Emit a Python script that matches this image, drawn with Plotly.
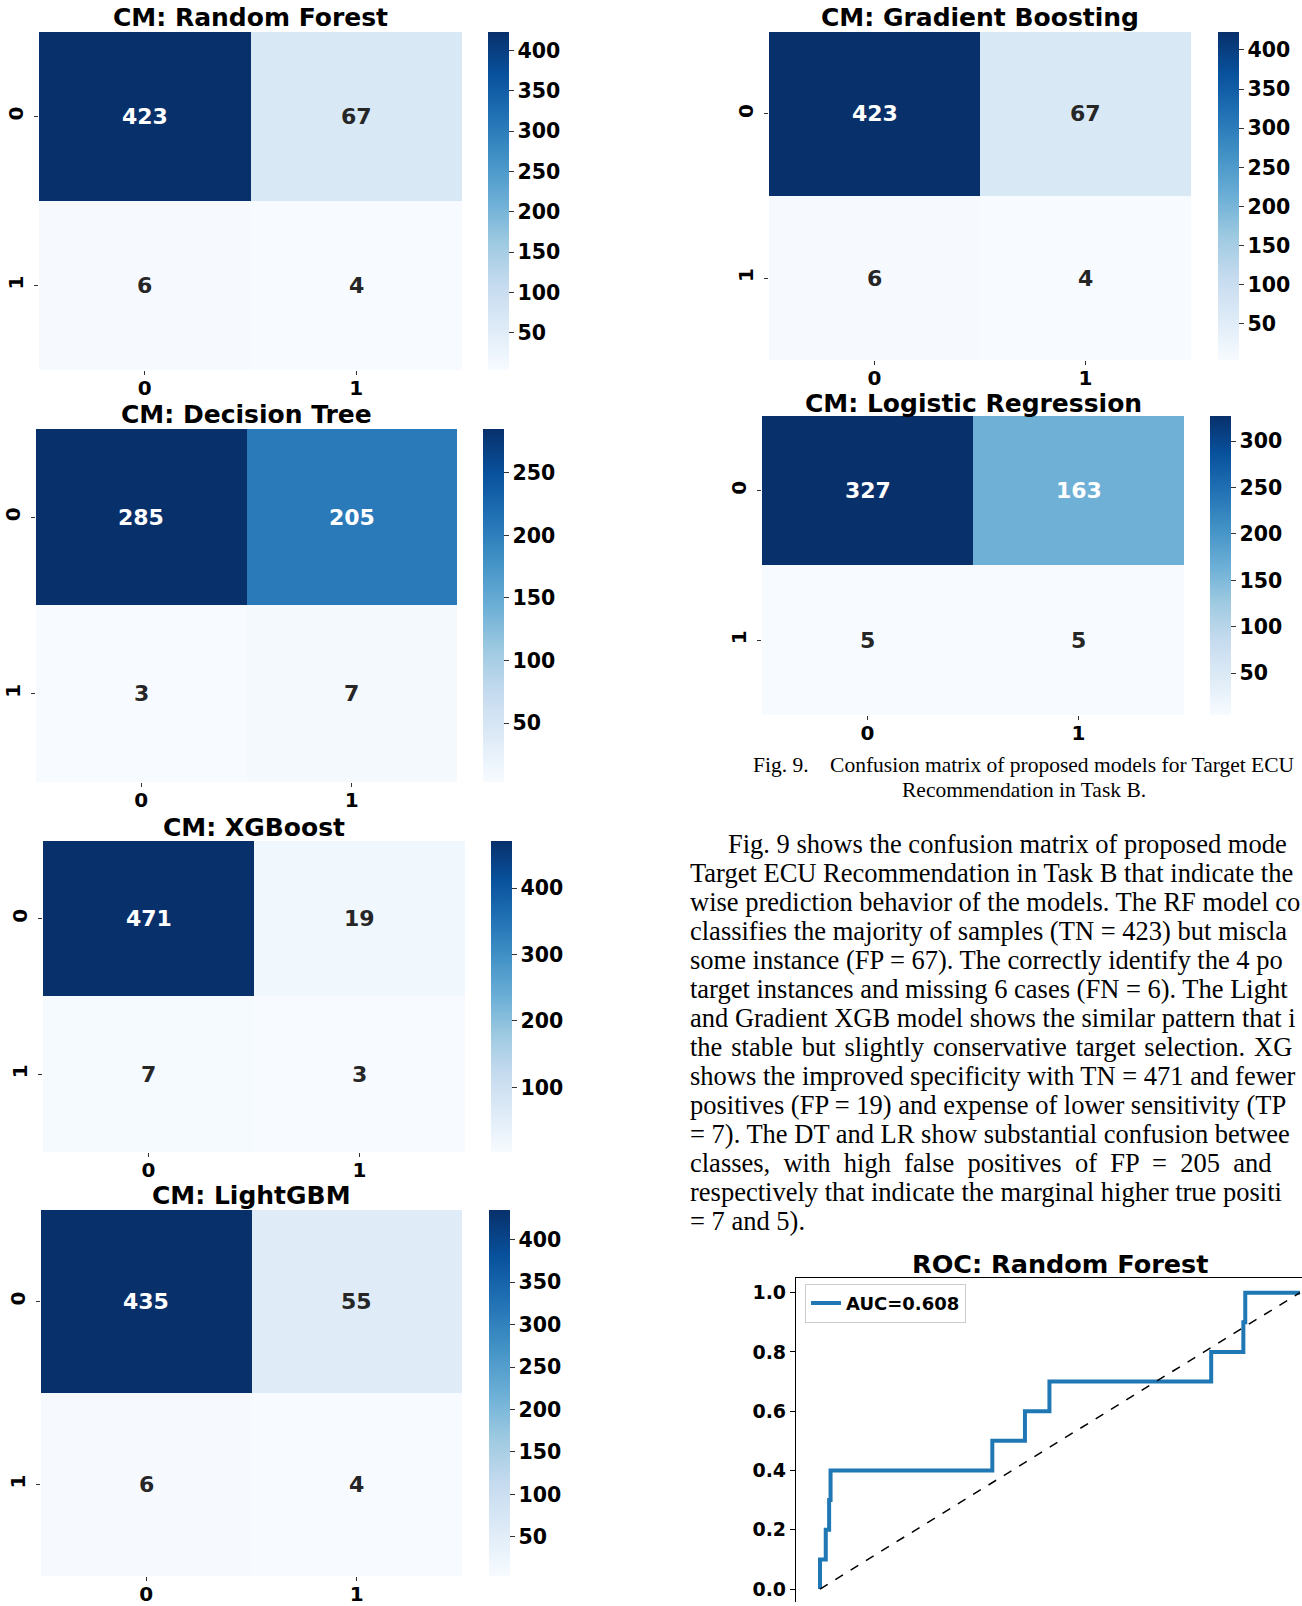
import plotly.graph_objects as go

W, H = 1302, 1606          # browser window (figure fills it; body margin removed)

# ---------------- data ----------------
class_labels = [0, 1]
model_names = ["Random Forest", "Gradient Boosting", "Logistic Regression",
               "Decision Tree", "XGBoost", "LightGBM"]
cm_rf = [[423, 67], [6, 4]]
cm_gb = [[423, 67], [6, 4]]
cm_lr = [[327, 163], [5, 5]]
cm_dt = [[285, 205], [3, 7]]
cm_xgb = [[471, 19], [7, 3]]
cm_lgbm = [[435, 55], [6, 4]]

cb_ticks_rf = [50, 100, 150, 200, 250, 300, 350, 400]
cb_ticks_gb = [50, 100, 150, 200, 250, 300, 350, 400]
cb_ticks_lr = [50, 100, 150, 200, 250, 300]
cb_ticks_dt = [50, 100, 150, 200, 250]
cb_ticks_xgb = [100, 200, 300, 400]
cb_ticks_lgbm = [50, 100, 150, 200, 250, 300, 350, 400]

roc_fpr = [0, 0, 0.012, 0.012, 0.019, 0.019, 0.022, 0.022, 0.359, 0.359, 0.427,
           0.427, 0.478, 0.478, 0.815, 0.815, 0.882, 0.882, 0.886, 0.886, 1.0]
roc_tpr = [0, 0.1, 0.1, 0.2, 0.2, 0.3, 0.3, 0.4, 0.4, 0.5, 0.5,
           0.6, 0.6, 0.7, 0.7, 0.8, 0.8, 0.9, 0.9, 1.0, 1.0]
roc_chance = [0, 1]
roc_auc = 0.608
roc_yticks = [0.0, 0.2, 0.4, 0.6, 0.8, 1.0]

NB = "\u00a0"
HAIR = "\u200a"
caption_lines = ["Fig. 9." + NB * 4 + "Confusion matrix of proposed models for Target ECU",
                 "Recommendation in Task B."]
paragraph_lines = [
    "Fig. 9 shows the confusion matrix of proposed mode",
    "Target ECU Recommendation in Task B that indicate the",
    "wise prediction behavior of the models. The RF model co",
    "classifies the majority of samples (TN = 423) but miscla",
    "some instance (FP = 67). The correctly identify the 4 po",
    "target instances and missing 6 cases (FN = 6). The Light",
    "and Gradient XGB model shows the similar pattern that i",
    "the stable but slightly conservative target selection. XG".replace(" ", " " + HAIR),
    "shows the improved specificity with TN = 471 and fewer",
    "positives (FP = 19) and expense of lower sensitivity (TP",
    "= 7). The DT and LR show substantial confusion betwee",
    "classes, with high false positives of FP = 205 and".replace(" ", " " + NB),
    "respectively that indicate the marginal higher true positi",
    "= 7 and 5).",
]

# ---------------- layout (pixel boxes in the window) ----------------
panels = [
    dict(cm=cm_rf, ticks=cb_ticks_rf, box=(39, 462, 32, 371), cb=(488, 509), ty=18),
    dict(cm=cm_gb, ticks=cb_ticks_gb, box=(769, 1191, 32, 361), cb=(1218, 1239), ty=18),
    dict(cm=cm_lr, ticks=cb_ticks_lr, box=(762, 1184, 417, 717), cb=(1210, 1231), ty=405),
    dict(cm=cm_dt, ticks=cb_ticks_dt, box=(36, 457, 430, 784), cb=(483, 504), ty=416),
    dict(cm=cm_xgb, ticks=cb_ticks_xgb, box=(43, 465, 843, 1155), cb=(491, 512), ty=830),
    dict(cm=cm_lgbm, ticks=cb_ticks_lgbm, box=(41, 462, 1213, 1580), cb=(489, 510), ty=1198),
]

blues = ["#f7fbff", "#deebf7", "#c6dbef", "#9ecae1", "#6baed6",
         "#4292c6", "#2171b5", "#08519c", "#08306b"]
colorscale = [[i / 8, c] for i, c in enumerate(blues)]

FONT = "DejaVu Sans"


def px_x(x):
    return x / W


def px_y(y):
    return 1 - y / H


fig = go.Figure()
annotations = []
layout_axes = {}

for i, p in enumerate(panels):
    k = i + 1
    xa = "x" if k == 1 else f"x{k}"
    ya = "y" if k == 1 else f"y{k}"
    x0, x1, y0, y1 = p["box"]
    z = p["cm"]
    flat = [v for row in z for v in row]
    zmin, zmax = min(flat), max(flat)
    fig.add_trace(go.Heatmap(
        z=z, x=class_labels, y=class_labels, zmin=zmin, zmax=zmax,
        colorscale=colorscale, xaxis=xa, yaxis=ya, hoverinfo="skip",
        colorbar=dict(
            thickness=p["cb"][1] - p["cb"][0], thicknessmode="pixels",
            len=(y1 - y0) / H, lenmode="fraction",
            x=px_x(p["cb"][0]), xanchor="left", xpad=0,
            y=px_y(y0), yanchor="top", ypad=0,
            outlinewidth=0, ticks="outside", ticklen=5, tickwidth=1,
            tickcolor="#333333", tickvals=p["ticks"],
            tickfont=dict(family=FONT, size=20.5, color="black", weight="bold"),
        ),
    ))
    xkey = "xaxis" if k == 1 else f"xaxis{k}"
    ykey = "yaxis" if k == 1 else f"yaxis{k}"
    layout_axes[xkey] = dict(
        domain=[px_x(x0), px_x(x1)], anchor=ya, range=[-0.5, 1.5],
        tickvals=class_labels, ticks="outside", ticklen=4, tickcolor="#333333",
        ticklabelstandoff=-4,
        showgrid=False, zeroline=False, showline=False,
        tickfont=dict(family=FONT, size=20, color="black", weight="bold"),
    )
    layout_axes[ykey] = dict(
        domain=[px_y(y1), px_y(y0)], anchor=xa, range=[1.5, -0.5],
        tickvals=class_labels, ticks="outside", ticklen=4, tickcolor="#333333",
        tickangle=-90, ticklabelstandoff=3,
        showgrid=False, zeroline=False, showline=False,
        tickfont=dict(family=FONT, size=20, color="black", weight="bold"),
    )
    for r, row in enumerate(z):
        for c, v in enumerate(row):
            norm = (v - zmin) / (zmax - zmin)
            annotations.append(dict(
                x=class_labels[c], y=class_labels[r], xref=xa, yref=ya,
                text=str(v), showarrow=False,
                font=dict(family=FONT, size=22, weight="bold",
                          color="white" if norm > 0.45 else "#262626"),
            ))
    annotations.append(dict(
        x=px_x((x0 + x1) / 2), y=px_y(p["ty"]), xref="paper", yref="paper",
        xanchor="center", yanchor="middle", showarrow=False,
        text="CM: " + model_names[i],
        font=dict(family=FONT, size=25, color="black", weight="bold"),
    ))

# ---------------- ROC panel ----------------
roc_box = (796, 1302, 1281, 1606)
fig.add_trace(go.Scatter(
    x=roc_fpr, y=roc_tpr, mode="lines", xaxis="x7", yaxis="y7",
    line=dict(color="#1f77b4", width=4), name=f"AUC={roc_auc:.3f}",
    showlegend=True,
))
fig.add_trace(go.Scatter(
    x=roc_chance, y=roc_chance, mode="lines", xaxis="x7", yaxis="y7",
    line=dict(color="black", width=1.5, dash="dash"), showlegend=False,
))
layout_axes["xaxis7"] = dict(
    domain=[px_x(roc_box[0]), px_x(roc_box[1])], anchor="y7", side="top",
    range=[-0.05, 1.0042], showline=True, linecolor="black", linewidth=1.2,
    ticks="", showticklabels=False, showgrid=False, zeroline=False,
)
layout_axes["yaxis7"] = dict(
    domain=[px_y(roc_box[3]), px_y(roc_box[2])], anchor="x7",
    range=[-0.0438, 1.05], showline=True, linecolor="black", linewidth=1.2,
    ticks="outside", ticklen=5, tickcolor="black", tickvals=roc_yticks,
    tickformat=".1f", showgrid=False, zeroline=False,
    tickfont=dict(family=FONT, size=19, color="black", weight="bold"),
)
annotations.append(dict(
    x=px_x(1060), y=px_y(1267), xref="paper", yref="paper",
    xanchor="center", yanchor="middle", showarrow=False,
    text="ROC: Random Forest",
    font=dict(family=FONT, size=25.5, color="black", weight="bold"),
))

# ---------------- caption and paragraph ----------------
for j, line in enumerate(caption_lines):
    annotations.append(dict(
        x=px_x(1024), y=px_y(767 + j * 25), xref="paper", yref="paper",
        xanchor="center", yanchor="middle", showarrow=False, text=line,
        font=dict(family="Liberation Serif", size=21.5, color="black"),
    ))
for j, line in enumerate(paragraph_lines):
    annotations.append(dict(
        x=px_x(726 if j == 0 else 688), y=px_y(846 + j * 29.1),
        xref="paper", yref="paper", xanchor="left", yanchor="middle",
        showarrow=False, text=line,
        font=dict(family="Liberation Serif", size=26.5, color="black"),
    ))

fig.update_layout(
    width=W, height=H, margin=dict(l=0, r=0, t=0, b=0),
    paper_bgcolor="white", plot_bgcolor="white",
    annotations=annotations,
    legend=dict(
        x=px_x(805), y=px_y(1287), xanchor="left", yanchor="top",
        bordercolor="#cccccc", borderwidth=1, bgcolor="white",
        font=dict(family=FONT, size=18, color="black", weight="bold"),
        itemwidth=30,
    ),
    **layout_axes,
)

fig.write_html("out.html", config=dict(displayModeBar=False),
               post_script="document.body.style.margin='0px';")
